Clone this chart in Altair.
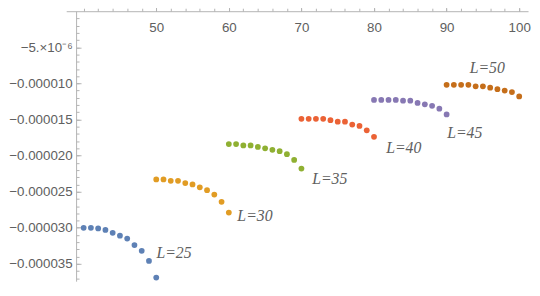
import altair as alt
import pandas as pd

# ---- data (y in units of 1e-6) ----
series_names = ["L=25", "L=30", "L=35", "L=40", "L=45", "L=50"]
series_start = [40, 50, 60, 70, 80, 90]
series_values = [
    [-30.0, -30.0, -30.1, -30.3, -30.7, -31.1, -31.5, -32.4, -33.2, -34.6, -36.9],
    [-23.3, -23.3, -23.5, -23.5, -23.8, -24.0, -24.4, -24.8, -25.4, -26.4, -27.9],
    [-18.4, -18.4, -18.6, -18.6, -18.8, -19.0, -19.2, -19.4, -19.8, -20.6, -21.8],
    [-14.9, -14.9, -14.9, -14.9, -15.1, -15.3, -15.3, -15.7, -15.9, -16.5, -17.4],
    [-12.3, -12.3, -12.3, -12.3, -12.4, -12.4, -12.7, -12.9, -13.1, -13.5, -14.3],
    [-10.2, -10.2, -10.2, -10.2, -10.4, -10.4, -10.6, -10.8, -11.0, -11.2, -11.8],
]
colors = ["#5E81B5", "#E19C24", "#8FB032", "#EB6235", "#8778B3", "#C56E1A"]

label_text = ["L=25", "L=30", "L=35", "L=40", "L=45", "L=50"]
label_x = [52.45, 63.6, 73.9, 84.1, 92.5, 95.6]
label_y = [-33.55, -28.36, -23.3, -18.97, -16.9, -7.87]

x_major = [50, 60, 70, 80, 90, 100]
x_minor = list(range(40, 101, 2))
y_major = [-5, -10, -15, -20, -25, -30, -35]
y_minor = list(range(-1, -38, -1))

x_domain = [37.6, 101.22]
y_domain = [-37.4e-6, 0.0]

# ---- tables ----
rows = []
for name, start, vals in zip(series_names, series_start, series_values):
    for i, v in enumerate(vals):
        rows.append({"series": name, "x": start + i, "y": v * 1e-6})
pts = pd.DataFrame(rows)
labels = pd.DataFrame({"text": label_text, "x": label_x,
                       "y": [v * 1e-6 for v in label_y]})

AX = "#b3b3b3"
LBL = "#606060"
xs = alt.Scale(domain=x_domain, nice=False, zero=False)
ys = alt.Scale(domain=y_domain, nice=False, zero=False)

points = alt.Chart(pts).mark_circle(size=34, opacity=1).encode(
    x=alt.X("x:Q", scale=xs, title=None,
            axis=alt.Axis(orient="top", values=x_major, grid=False,
                          domainColor=AX, tickColor=AX, tickSize=5,
                          labelPadding=-25.6, labelBaseline="alphabetic",
                          labelFlush=False, labelFont="Liberation Sans",
                          labelFontSize=13.5, labelColor=LBL)),
    y=alt.Y("y:Q", scale=ys, title=None,
            axis=alt.Axis(orient="left", values=[v * 1e-6 for v in y_major],
                          grid=False, ticks=False, tickSize=0, offset=-10,
                          domainColor=AX, labelPadding=4,
                          labelFont="Liberation Sans", labelFontSize=13.5,
                          labelColor=LBL, labelFlush=False,
                          labelExpr="datum.value > -6e-6 ? '\u22125.\u00d710\u207b\u2076' : format(datum.value, '.6f')")),
    color=alt.Color("series:N", scale=alt.Scale(domain=series_names, range=colors),
                    legend=None),
)

text = alt.Chart(labels).mark_text(
    font="Liberation Serif", fontStyle="italic", fontSize=16,
    color=LBL, align="center", baseline="middle",
).encode(
    x=alt.X("x:Q", scale=xs, axis=None),
    y=alt.Y("y:Q", scale=ys, title=None,
            axis=alt.Axis(orient="left", values=[v * 1e-6 for v in y_major],
                          grid=False, domain=False, labels=False,
                          tickColor=AX, tickSize=5, offset=-15)),
    text="text:N",
)

minor = alt.Chart(pts).mark_circle(size=1, opacity=0).encode(
    x=alt.X("x:Q", scale=xs, title=None,
            axis=alt.Axis(orient="top", values=x_minor, grid=False,
                          domain=False, labels=False, tickColor=AX, tickSize=3)),
    y=alt.Y("y:Q", scale=ys, title=None,
            axis=alt.Axis(orient="left", values=[v * 1e-6 for v in y_minor],
                          grid=False, domain=False, labels=False,
                          tickColor=AX, tickSize=3, offset=-13)),
)

chart = alt.layer(points, text, minor).resolve_axis(
    x="independent", y="independent"
).properties(
    width=468, height=273.6, autosize="none",
    padding={"left": 59, "top": 1.4, "right": 4, "bottom": 0},
).configure_view(stroke=None)

chart.save("out.html", embed_options={"renderer": "svg", "actions": False})
